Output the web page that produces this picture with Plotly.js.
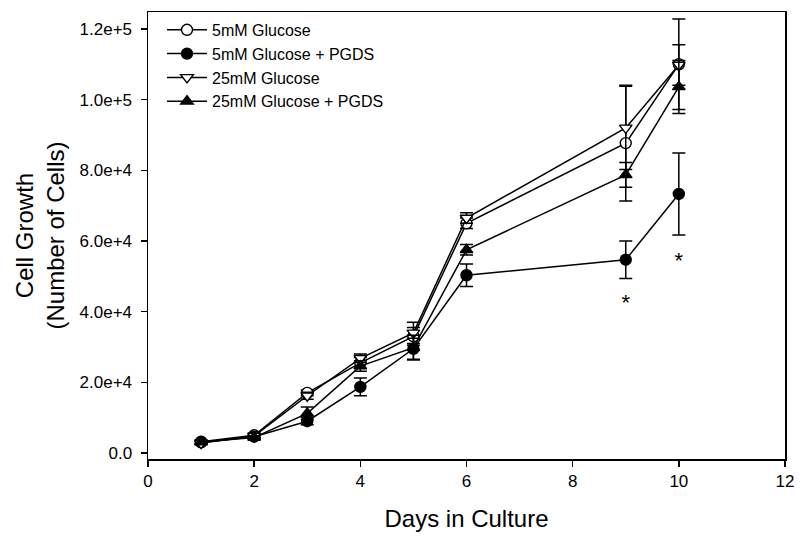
<!DOCTYPE html>
<html><head><meta charset="utf-8">
<script src="https://cdn.plot.ly/plotly-3.0.1.min.js"></script>
<style>html,body{margin:0;padding:0;background:#fff}#c{width:800px;height:539px}</style>
</head><body><div id="c"></div>
<script>
const days = [1, 2, 3, 4, 5, 6, 9, 10];
const names = ["5mM Glucose", "5mM Glucose + PGDS", "25mM Glucose", "25mM Glucose + PGDS"];
const g5 = [3200, 5000, 17000, 25500, 33000, 65000, 87700, 110000];
const g5err = [500, 600, 800, 1500, 2500, 1500, 16400, 12800];
const g5p = [3000, 4600, 9000, 18700, 29500, 50300, 54700, 73300];
const g5perr = [400, 500, 1000, 2500, 3000, 3200, 5300, 11600];
const g25 = [2800, 4800, 16200, 26800, 34000, 66500, 92000, 109800];
const g25err = [400, 500, 1000, 1200, 3000, 1500, 11800, 5700];
const g25p = [3100, 4400, 11200, 24600, 29800, 57500, 78700, 103600];
const g25perr = [500, 500, 1800, 1500, 3500, 1500, 3500, 7500];
const starDays = [9, 10];
const starY = [42000, 54000];
const yTickVals = [0, 20000, 40000, 60000, 80000, 100000, 120000];
const yTickText = ["0.0", "2.0e+4", "4.0e+4", "6.0e+4", "8.0e+4", "1.0e+5", "1.2e+5"];

function tr(name, y, err, symbol, fill) {
  return {
    x: days, y: y, name: name, type: 'scatter', mode: 'lines+markers',
    line: {color: '#000', width: 1.5},
    marker: {symbol: symbol, size: 11, color: fill, line: {color: '#000', width: 1.4}},
    error_y: {type: 'data', array: err, visible: true, color: '#000', thickness: 1.5, width: 6.5}
  };
}
const data = [
  tr(names[0], g5, g5err, 'circle', '#fff'),
  tr(names[1], g5p, g5perr, 'circle', '#000'),
  tr(names[2], g25, g25err, 'triangle-down', '#fff'),
  tr(names[3], g25p, g25perr, 'triangle-up', '#000'),
  {x: starDays, y: starY, mode: 'text', text: starDays.map(() => '*'), showlegend: false,
   textfont: {size: 22, color: '#000', family: 'Liberation Sans, Arial'}, type: 'scatter', hoverinfo: 'skip'}
];
const font = {family: 'Liberation Sans, Arial, sans-serif', color: '#000'};
const layout = {
  width: 800, height: 539,
  margin: {l: 148, r: 15, t: 12, b: 80},
  paper_bgcolor: '#fff', plot_bgcolor: '#fff',
  font: font,
  showlegend: true,
  legend: {x: 0.022, y: 0.998, xanchor: 'left', yanchor: 'top', bgcolor: 'rgba(0,0,0,0)',
           font: {size: 16, family: font.family, color: '#000'}, tracegroupgap: 0, itemwidth: 40},
  xaxis: {
    range: [0, 12], dtick: 2, tick0: 0, showgrid: false, zeroline: false,
    showline: true, mirror: true, linecolor: '#000', linewidth: 1.5,
    ticks: 'outside', ticklen: 6, tickcolor: '#000', tickwidth: 1.5,
    tickfont: {size: 17, family: font.family, color: '#000'},
    title: {text: 'Days in Culture', font: {size: 24, family: font.family, color: '#000'}, standoff: 20}
  },
  yaxis: {
    range: [-1700, 124800], tickvals: yTickVals, ticktext: yTickText,
    showgrid: false, zeroline: false,
    showline: true, mirror: true, linecolor: '#000', linewidth: 1.5,
    ticks: 'outside', ticklen: 6, tickcolor: '#000', tickwidth: 1.5, ticklabelstandoff: 5,
    tickfont: {size: 17, family: font.family, color: '#000'},
    title: {text: 'Cell Growth<br>(Number of Cells)', font: {size: 24, family: font.family, color: '#000'}, standoff: 8}
  }
};
Plotly.newPlot('c', data, layout, {displayModeBar: false, staticPlot: true});
</script></body></html>
